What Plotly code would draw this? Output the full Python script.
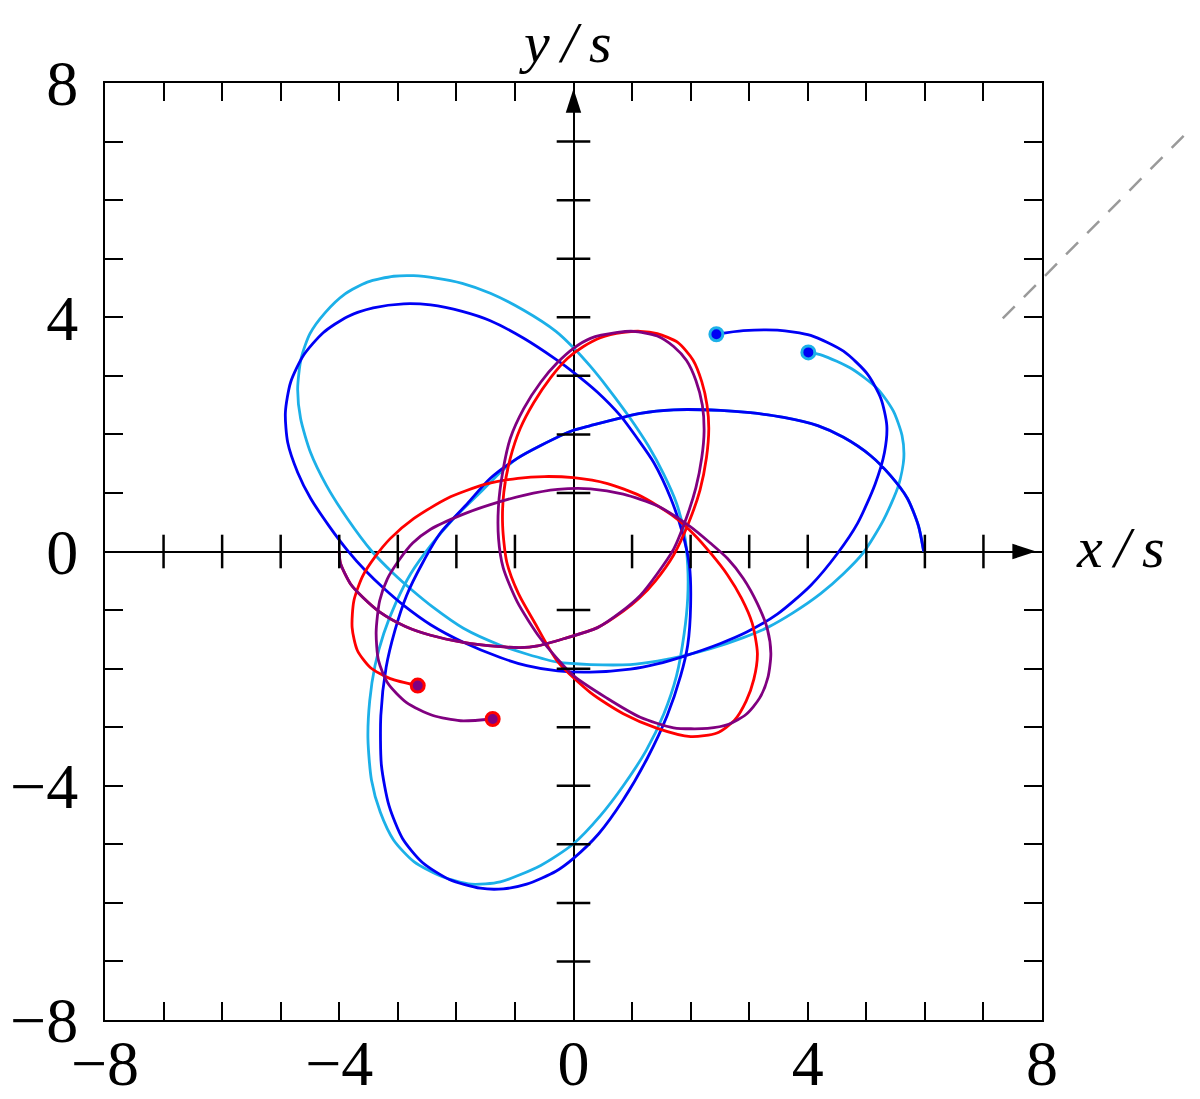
import plotly.graph_objects as go

# ---- data (data units) ----
blue_xy = [(5.98, 0.00), (5.89, 0.44), (5.70, 0.91), (5.41, 1.30), (5.07, 1.64), (4.61, 1.95),
           (4.17, 2.15), (3.59, 2.29), (3.02, 2.37), (2.51, 2.41), (1.71, 2.42), (1.14, 2.36),
           (0.29, 2.15), (0.00, 2.07), (-0.56, 1.81), (-0.96, 1.59), (-1.42, 1.25), (-1.81, 0.82),
           (-2.27, 0.32), (-2.58, -0.20), (-2.85, -0.75), (-3.05, -1.35), (-3.20, -1.98),
           (-3.29, -2.80), (-3.28, -3.65), (-3.15, -4.34), (-2.92, -4.90), (-2.58, -5.31),
           (-2.12, -5.60), (-1.59, -5.75), (-1.20, -5.76), (-0.80, -5.68), (-0.30, -5.46),
           (0.00, -5.24), (0.43, -4.82), (0.85, -4.24), (1.26, -3.53), (1.60, -2.80),
           (1.83, -2.12), (1.95, -1.60), (2.00, -0.92), (1.98, -0.24), (1.86, 0.32),
           (1.66, 0.91), (1.37, 1.52), (1.09, 1.93), (0.80, 2.32), (0.41, 2.72), (0.00, 3.06),
           (-0.30, 3.28), (-0.85, 3.64), (-1.42, 3.94), (-1.90, 4.10), (-2.44, 4.21),
           (-2.90, 4.23), (-3.42, 4.16), (-3.86, 4.01), (-4.27, 3.74), (-4.61, 3.35),
           (-4.83, 2.89), (-4.92, 2.37), (-4.88, 1.86), (-4.71, 1.35), (-4.49, 0.91),
           (-4.17, 0.43), (-3.86, 0.02), (-3.55, -0.33), (-3.25, -0.62), (-2.90, -0.92),
           (-2.44, -1.25), (-1.88, -1.55), (-1.25, -1.81), (-0.80, -1.95), (-0.27, -2.04),
           (0.29, -2.06), (0.97, -2.01), (1.43, -1.92), (1.88, -1.79), (2.51, -1.57),
           (2.95, -1.38), (3.48, -1.07), (4.05, -0.58), (4.51, -0.03), (4.85, 0.48),
           (5.15, 1.15), (5.31, 1.69), (5.35, 2.15), (5.25, 2.61), (5.02, 3.03), (4.61, 3.42),
           (4.05, 3.69), (3.48, 3.78), (2.90, 3.77), (2.44, 3.71)]

cyan_xy = [(5.98, 0.00), (5.89, 0.44), (5.70, 0.91), (5.41, 1.30), (5.07, 1.64), (4.61, 1.95),
           (4.17, 2.15), (3.59, 2.29), (3.02, 2.37), (2.51, 2.41), (1.71, 2.42), (1.14, 2.36),
           (0.29, 2.15), (0.00, 2.07), (-0.56, 1.81), (-0.96, 1.59), (-1.25, 1.35),
           (-1.59, 1.01), (-2.05, 0.56), (-2.44, 0.10), (-2.78, -0.38), (-3.03, -0.87),
           (-3.24, -1.40), (-3.39, -1.95), (-3.48, -2.55), (-3.51, -3.20), (-3.45, -3.90),
           (-3.30, -4.45), (-3.07, -4.93), (-2.72, -5.30), (-2.25, -5.55), (-1.75, -5.68),
           (-1.25, -5.64), (-0.56, -5.36), (0.00, -4.99), (0.46, -4.51), (0.85, -4.00),
           (1.24, -3.40), (1.54, -2.78), (1.76, -2.12), (1.89, -1.40), (1.95, -0.80),
           (1.95, -0.24), (1.89, 0.32), (1.76, 0.82), (1.54, 1.32), (1.28, 1.80), (0.95, 2.30),
           (0.58, 2.80), (0.29, 3.16), (0.00, 3.48), (-0.30, 3.76), (-0.85, 4.12),
           (-1.42, 4.41), (-1.90, 4.58), (-2.35, 4.67), (-2.73, 4.71), (-3.07, 4.70),
           (-3.52, 4.60), (-3.90, 4.40), (-4.24, 4.08), (-4.50, 3.72), (-4.65, 3.30),
           (-4.71, 2.78), (-4.66, 2.27), (-4.49, 1.69), (-4.22, 1.13), (-3.86, 0.56),
           (-3.44, 0.00), (-3.07, -0.38), (-2.78, -0.64), (-2.40, -0.95), (-1.88, -1.31),
           (-1.25, -1.60), (-0.80, -1.75), (-0.27, -1.89), (0.29, -1.93), (0.97, -1.93),
           (1.43, -1.87), (1.88, -1.78), (2.34, -1.66), (2.90, -1.47), (3.31, -1.30),
           (3.76, -1.04), (4.22, -0.72), (4.61, -0.38), (4.95, -0.02), (5.29, 0.53),
           (5.55, 1.13), (5.64, 1.59), (5.61, 1.98), (5.46, 2.40), (5.19, 2.78), (4.75, 3.12),
           (4.25, 3.35), (4.01, 3.40)]

red_xy = [(-4.00, 0.00), (-3.98, -0.20), (-3.81, -0.55), (-3.59, -0.79), (-3.30, -1.04),
          (-2.87, -1.28), (-2.44, -1.43), (-1.88, -1.55), (-1.30, -1.62), (-0.91, -1.64),
          (-0.61, -1.61), (-0.17, -1.49), (0.41, -1.30), (0.85, -1.02), (1.12, -0.80),
          (1.40, -0.50), (1.71, -0.06), (1.97, 0.50), (2.16, 1.05), (2.27, 1.60), (2.31, 2.10),
          (2.28, 2.50), (2.19, 2.90), (2.04, 3.27), (1.78, 3.57), (1.43, 3.72), (1.14, 3.76),
          (0.85, 3.74), (0.46, 3.65), (0.17, 3.50), (-0.10, 3.30), (-0.39, 2.97),
          (-0.68, 2.54), (-0.91, 2.10), (-1.08, 1.59), (-1.19, 1.01), (-1.21, 0.44),
          (-1.14, -0.18), (-0.94, -0.72), (-0.66, -1.22), (-0.27, -1.88), (0.29, -2.41),
          (0.85, -2.77), (1.43, -3.02), (2.00, -3.16), (2.45, -3.10), (2.75, -2.88),
          (2.95, -2.55), (3.08, -2.18), (3.14, -1.74), (3.05, -1.22), (2.87, -0.80),
          (2.63, -0.40), (2.36, -0.05), (2.05, 0.30), (1.71, 0.60), (1.14, 0.95), (0.58, 1.16),
          (0.00, 1.26), (-0.50, 1.28), (-0.95, 1.25), (-1.50, 1.15), (-2.15, 0.91),
          (-2.73, 0.56), (-3.13, 0.22), (-3.38, -0.08), (-3.60, -0.42), (-3.75, -0.84),
          (-3.78, -1.30), (-3.69, -1.69), (-3.47, -1.98), (-3.13, -2.17), (-2.66, -2.29)]

purple_xy = [(-4.00, 0.00), (-3.98, -0.20), (-3.81, -0.55), (-3.59, -0.79), (-3.30, -1.04),
             (-2.87, -1.28), (-2.44, -1.43), (-1.88, -1.55), (-1.30, -1.62), (-0.91, -1.64),
             (-0.61, -1.61), (-0.17, -1.49), (0.41, -1.30), (0.80, -1.04), (1.14, -0.75),
             (1.43, -0.38), (1.71, 0.04), (1.93, 0.58), (2.09, 1.09), (2.19, 1.60), (2.23, 2.05),
             (2.20, 2.50), (2.09, 2.92), (1.93, 3.26), (1.71, 3.50), (1.43, 3.68), (1.02, 3.76),
             (0.75, 3.74), (0.29, 3.64), (0.00, 3.47), (-0.27, 3.23), (-0.56, 2.89),
             (-0.85, 2.44), (-1.08, 1.93), (-1.21, 1.35), (-1.28, 0.79), (-1.28, 0.22),
             (-1.20, -0.28), (-0.96, -0.86), (-0.56, -1.49), (0.00, -2.12), (0.58, -2.51),
             (1.14, -2.83), (1.71, -3.01), (2.29, -3.02), (2.65, -2.95), (2.95, -2.78),
             (3.18, -2.50), (3.32, -2.15), (3.37, -1.74), (3.31, -1.32), (3.14, -0.89),
             (2.90, -0.46), (2.63, -0.12), (2.34, 0.14), (2.00, 0.42), (1.43, 0.78),
             (0.85, 0.98), (0.29, 1.07), (-0.27, 1.06), (-0.85, 0.96), (-1.42, 0.80),
             (-1.90, 0.63), (-2.44, 0.38), (-2.75, 0.14), (-2.98, -0.15), (-3.18, -0.47),
             (-3.31, -0.84), (-3.37, -1.38), (-3.33, -1.86), (-3.17, -2.25), (-2.85, -2.58),
             (-2.40, -2.80), (-1.93, -2.89), (-1.38, -2.86)]

blue_dots_xy = [(2.44, 3.71), (4.01, 3.40)]
red_dots_xy = [(-2.66, -2.29), (-1.38, -2.86)]

axis_ticks = list(range(-8, 9))
tick_labels = {-8: "\u22128", -4: "\u22124", 0: "0", 4: "4", 8: "8"}
center_ticks = [k for k in range(-7, 8) if k != 0]
arrow_tip = 7.9
dash_line = [(7.33, 3.98), (10.54, 7.22)]
x_range = [-8, 8]
y_range = [-8, 8]

BLUE = "#0000F5"
CYAN = "#1CB0E8"
RED = "#FF0000"
PURPLE = "#800080"
SERIF = "Liberation Serif, Times New Roman, serif"


def xs(pts):
    return [p[0] for p in pts]


def ys(pts):
    return [p[1] for p in pts]


fig = go.Figure()

for pts, col in [(cyan_xy, CYAN), (blue_xy, BLUE), (red_xy, RED), (purple_xy, PURPLE)]:
    fig.add_trace(go.Scatter(x=xs(pts), y=ys(pts), mode="lines",
                             line=dict(color=col, width=2.8, shape="spline", smoothing=0.7),
                             hoverinfo="skip", showlegend=False))

# cross ticks on the central axes
fig.add_trace(go.Scatter(x=center_ticks, y=[0] * len(center_ticks), mode="markers",
                         marker=dict(symbol="line-ns", size=24, line=dict(width=2.5, color="black")),
                         hoverinfo="skip", showlegend=False))
fig.add_trace(go.Scatter(x=[0] * len(center_ticks), y=center_ticks, mode="markers",
                         marker=dict(symbol="line-ew", size=24, line=dict(width=2.5, color="black")),
                         hoverinfo="skip", showlegend=False))

# arrow heads of the central axes
fig.add_trace(go.Scatter(x=[arrow_tip, 0], y=[0, arrow_tip], mode="markers",
                         marker=dict(symbol="arrow", size=25, angle=[90, 0], color="black",
                                     line=dict(width=0)),
                         cliponaxis=False, hoverinfo="skip", showlegend=False))

# end-point dots
fig.add_trace(go.Scatter(x=xs(blue_dots_xy), y=ys(blue_dots_xy), mode="markers",
                         marker=dict(size=13, color=BLUE, line=dict(width=3, color=CYAN)),
                         hoverinfo="skip", showlegend=False))
fig.add_trace(go.Scatter(x=xs(red_dots_xy), y=ys(red_dots_xy), mode="markers",
                         marker=dict(size=13, color=PURPLE, line=dict(width=3, color=RED)),
                         hoverinfo="skip", showlegend=False))

axis_common = dict(
    tickmode="array", tickvals=axis_ticks,
    ticktext=[tick_labels.get(k, "") for k in axis_ticks],
    ticks="inside", ticklen=18, tickwidth=2, tickcolor="black",
    showline=True, linewidth=2, linecolor="black", mirror="ticks",
    showgrid=False, zeroline=True, zerolinecolor="black", zerolinewidth=2.2,
    tickfont=dict(family=SERIF, size=64, color="black"),
    fixedrange=True, automargin=False,
)

# the page adds an 8px body margin, so the figure is sized to fit the 1200x1099 window
fig.update_layout(
    width=1192, height=1091,
    margin=dict(l=97, r=158, t=75, b=79),
    paper_bgcolor="white", plot_bgcolor="white",
    xaxis=dict(range=x_range, ticklabelstandoff=-14, **axis_common),
    yaxis=dict(range=y_range, ticklabelstandoff=12, **axis_common),
    showlegend=False,
)

fig.add_annotation(text="<i>y\u2009/\u2009s</i>", xref="paper", yref="paper", x=0.491, y=1.08,
                   showarrow=False, font=dict(family=SERIF, size=58, color="black"),
                   xanchor="center", yanchor="top")
fig.add_annotation(text="<i>x\u2009/\u2009s</i>", xref="paper", yref="paper", x=1.084, y=0.504,
                   showarrow=False, font=dict(family=SERIF, size=58, color="black"),
                   xanchor="center", yanchor="middle")


def to_paper(v, rng):
    return (v - rng[0]) / (rng[1] - rng[0])


fig.add_shape(type="line", xref="paper", yref="paper",
              x0=to_paper(dash_line[0][0], x_range), y0=to_paper(dash_line[0][1], y_range),
              x1=to_paper(dash_line[1][0], x_range), y1=to_paper(dash_line[1][1], y_range),
              line=dict(color="#9a9a9a", width=2.5, dash="17px,13px"))

fig.write_html("out.html")
